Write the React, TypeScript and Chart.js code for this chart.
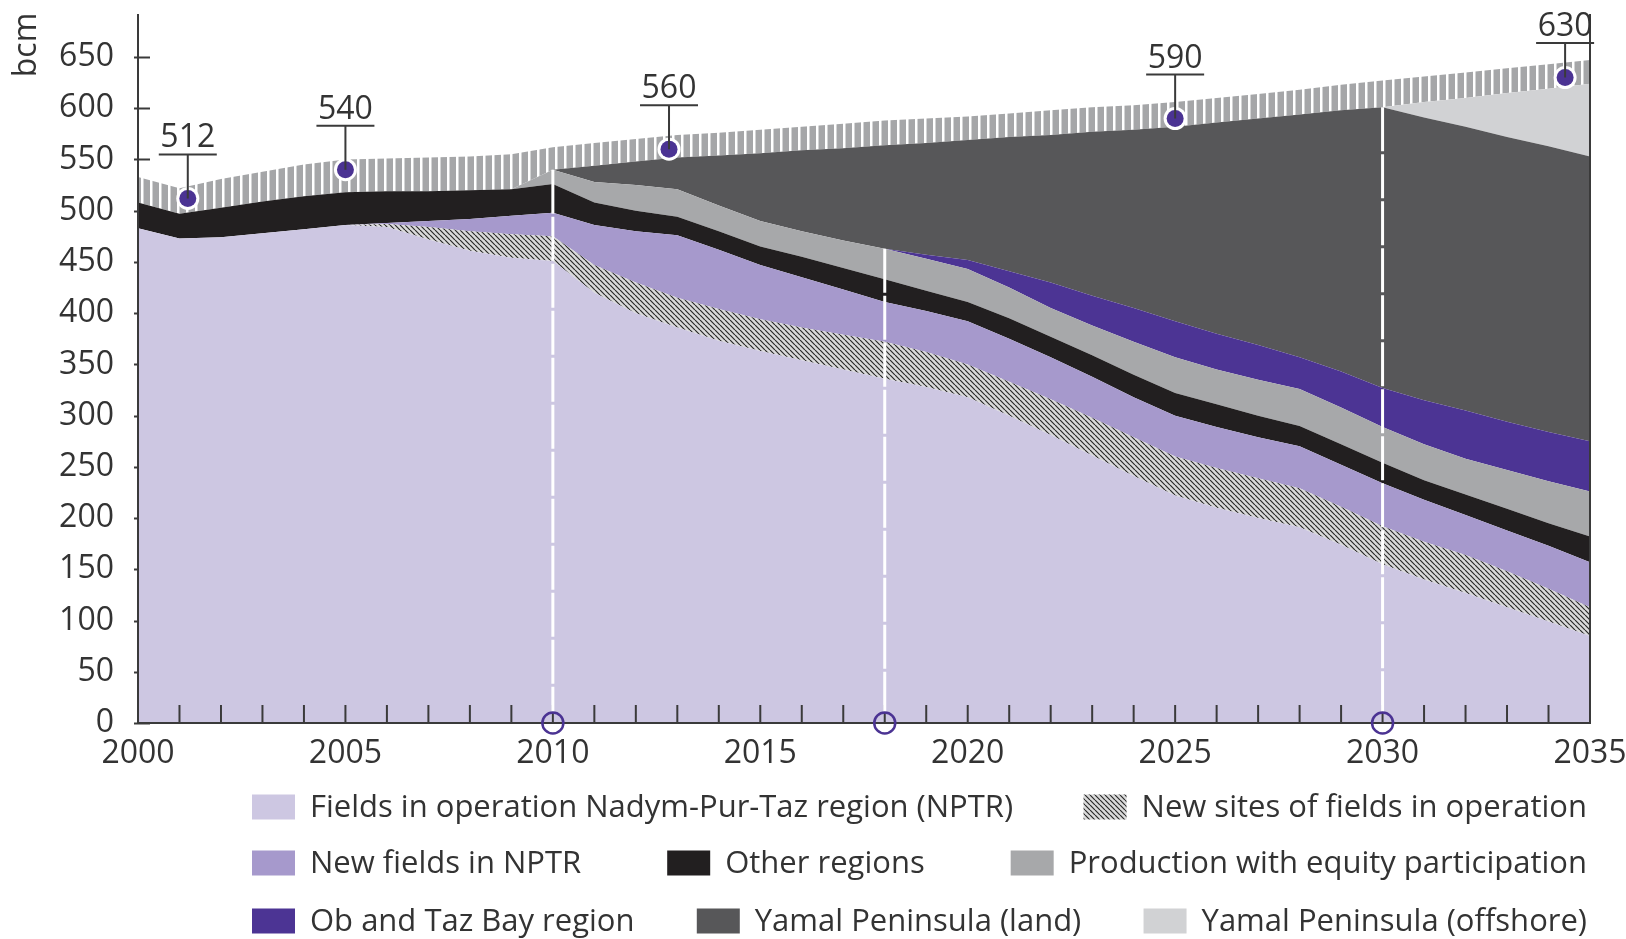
import React, { useEffect, useRef } from 'react';
import { Chart, registerables } from 'chart.js';

Chart.register(...registerables);

// ---------- data (bcm) ----------
const years = [
  2000, 2001, 2002, 2003, 2004, 2005, 2006, 2007, 2008, 2009,
  2010, 2011, 2012, 2013, 2014, 2015, 2016, 2017, 2018, 2019,
  2020, 2021, 2022, 2023, 2024, 2025, 2026, 2027, 2028, 2029,
  2030, 2031, 2032, 2033, 2034, 2035,
];

const fieldsInOperationNPTR = [
  483, 473, 474, 478, 482, 486, 484, 472, 461, 454,
  451, 420, 400, 386, 373, 363, 354, 345, 336, 328,
  318, 300, 281, 261, 241, 222, 210, 200, 191, 174,
  155, 140, 127, 113, 99, 85,
];
const newSitesOfFieldsInOperation = [
  0, 0, 0, 0, 0, 0, 3, 12, 19, 23,
  24, 27, 30, 29, 31, 31, 32, 34, 36, 34,
  32, 33, 35, 37, 38, 38, 39, 39, 38, 37,
  37, 37, 37, 35, 32, 28,
];
const newFieldsInNPTR = [
  0, 0, 0, 0, 0, 0, 1, 6, 12, 18,
  23, 39, 50, 61, 58, 53, 49, 44, 39, 40,
  42, 42, 41, 40, 39, 40, 40, 40, 41, 41,
  42, 41, 39, 40, 42, 44,
];
const otherRegions = [
  25, 24, 29, 31, 32, 32, 31, 29, 28, 26,
  28, 22, 20, 18, 18, 18, 20, 21, 22, 20,
  19, 20, 20, 21, 22, 22, 22, 21, 20, 20,
  20, 19, 20, 21, 22, 25,
];
const equityParticipation = [
  0, 0, 0, 0, 0, 0, 0, 0, 0, 0,
  14, 20, 25, 27, 25, 25, 25, 27, 30, 31,
  32, 30, 28, 29, 32, 35, 34, 35, 36, 36,
  35, 35, 35, 38, 41, 44,
];
const obTazBayRegion = [
  0, 0, 0, 0, 0, 0, 0, 0, 0, 0,
  0, 0, 0, 0, 0, 0, 0, 0, 0, 4,
  9, 16, 25, 29, 33, 35, 35, 34, 31, 35,
  38, 43, 47, 47, 48, 49,
];
const yamalLand = [
  0, 0, 0, 0, 0, 0, 0, 0, 0, 0,
  0, 16, 23, 31, 49, 66, 79, 90, 101, 109,
  117, 131, 144, 160, 174, 190, 206, 221, 237, 255,
  274, 276, 277, 278, 279, 278,
];
const yamalOffshore = [
  0, 0, 0, 0, 0, 0, 0, 0, 0, 0,
  0, 0, 0, 0, 0, 0, 0, 0, 0, 0,
  0, 0, 0, 0, 0, 0, 0, 0, 0, 0,
  0, 15, 28, 43, 56, 71,
];
const upperBand = [
  25, 25, 28, 29, 31, 32, 32, 33, 33, 34,
  22, 22, 22, 22, 22, 23, 23, 24, 24, 24,
  23, 23, 24, 24, 24, 24, 24, 24, 24, 25,
  26, 25, 25, 24, 24, 23,
];

const seriesNames = [
  'Fields in operation Nadym-Pur-Taz region (NPTR)',
  'New sites of fields in operation',
  'New fields in NPTR',
  'Other regions',
  'Production with equity participation',
  'Ob and Taz Bay region',
  'Yamal Peninsula (land)',
  'Yamal Peninsula (offshore)',
  '',
];
const seriesValues = [
  fieldsInOperationNPTR,
  newSitesOfFieldsInOperation,
  newFieldsInNPTR,
  otherRegions,
  equityParticipation,
  obTazBayRegion,
  yamalLand,
  yamalOffshore,
  upperBand,
];

const markerYears = [2001.2, 2005, 2012.8, 2025, 2034.4];
const markerValues = [512, 540, 560, 590, 630];

const milestoneYears = [2010, 2018, 2030];
const milestoneLayers = [
  'Yamal Peninsula (land)',
  'Ob and Taz Bay region',
  'Yamal Peninsula (offshore)',
];

const xTickLabels = [2000, 2005, 2010, 2015, 2020, 2025, 2030, 2035];
const yTickLabels = [0, 50, 100, 150, 200, 250, 300, 350, 400, 450, 500, 550, 600, 650];
const yAxisTitle = 'bcm';

const legendRows = [
  [0, 1],
  [2, 3, 4],
  [5, 6, 7],
];

// ---------- styles ----------
const FONT = '"Open Sans", "Noto Sans", sans-serif';
const TEXT = '#333333';
const AXIS = '#3a3a3a';
const DOT = '#4b3393';
const SOLID = [
  '#cdc7e2',
  'HATCH',
  '#a699cc',
  '#221f20',
  '#a7a8aa',
  '#4c3494',
  '#575759',
  '#d1d2d4',
  'STRIPE',
];

function makeStripe(ctx: CanvasRenderingContext2D) {
  const c = document.createElement('canvas');
  c.width = 9;
  c.height = 4;
  const g = c.getContext('2d')!;
  g.fillStyle = '#a5a6a8';
  g.fillRect(0, 0, 9, 4);
  g.fillStyle = '#ffffff';
  g.fillRect(6, 0, 2.5, 4);
  return ctx.createPattern(c, 'repeat')!;
}

function makeHatch(ctx: CanvasRenderingContext2D) {
  const s = 5;
  const c = document.createElement('canvas');
  c.width = s;
  c.height = s;
  const g = c.getContext('2d')!;
  g.fillStyle = '#dadada';
  g.fillRect(0, 0, s, s);
  g.strokeStyle = '#2a2a2a';
  g.lineWidth = 1.2;
  g.beginPath();
  for (let o = -s; o <= s; o += s) {
    g.moveTo(o, 0);
    g.lineTo(o + s, s);
  }
  g.stroke();
  return ctx.createPattern(c, 'repeat')!;
}

export default function App() {
  const ref = useRef<HTMLCanvasElement | null>(null);

  useEffect(() => {
    const canvas = ref.current!;
    const ctx0 = canvas.getContext('2d')!;
    const stripe = makeStripe(ctx0);
    const hatch = makeHatch(ctx0);
    const fills = SOLID.map((c) => (c === 'HATCH' ? hatch : c === 'STRIPE' ? stripe : c));

    const datasets = seriesValues.map((vals, i) => ({
      label: seriesNames[i],
      data: years.map((x, k) => ({ x, y: vals[k] })),
      backgroundColor: fills[i] as any,
      borderWidth: 0,
      borderColor: 'rgba(0,0,0,0)',
      pointRadius: 0,
      tension: 0,
      fill: i === 0 ? 'origin' : '-1',
    }));

    const overlay = {
      id: 'overlay',
      beforeDatasetsDraw(chart: any) {
        const { ctx, chartArea, scales } = chart;
        ctx.save();
        ctx.strokeStyle = AXIS;
        ctx.lineWidth = 2;
        yTickLabels.forEach((v) => {
          const py = Math.round(scales.y.getPixelForValue(v)) + 0.5;
          ctx.beginPath();
          ctx.moveTo(chartArea.left - 4, py);
          ctx.lineTo(chartArea.left + 12, py);
          ctx.stroke();
        });
        ctx.restore();
      },
      afterDatasetsDraw(chart: any) {
        const { ctx, chartArea, scales } = chart;
        const xs = scales.x;
        const ys = scales.y;
        const bottom = ys.getPixelForValue(0);
        ctx.save();

        // axes frame
        ctx.strokeStyle = AXIS;
        ctx.lineWidth = 2;
        ctx.beginPath();
        ctx.moveTo(chartArea.left, chartArea.top);
        ctx.lineTo(chartArea.left, bottom);
        ctx.lineTo(chartArea.right, bottom);
        ctx.lineTo(chartArea.right, chartArea.top);
        ctx.stroke();

        // yearly ticks (inward)
        for (let yr = xs.min + 1; yr < xs.max; yr++) {
          const px = xs.getPixelForValue(yr);
          ctx.beginPath();
          ctx.moveTo(px, bottom);
          ctx.lineTo(px, bottom - 18);
          ctx.stroke();
        }

        // milestone lines
        milestoneYears.forEach((yr, k) => {
          const idx = years.indexOf(yr);
          const layer = seriesNames.indexOf(milestoneLayers[k]);
          let base = 0;
          for (let j = 0; j < layer; j++) base += seriesValues[j][idx];
          const px = xs.getPixelForValue(yr);
          const top = ys.getPixelForValue(base);
          ctx.strokeStyle = '#ffffff';
          ctx.lineWidth = 3;
          ctx.setLineDash([44, 3]);
          ctx.beginPath();
          ctx.moveTo(px, top);
          ctx.lineTo(px, bottom - 11);
          ctx.stroke();
          ctx.setLineDash([]);
          ctx.strokeStyle = DOT;
          ctx.lineWidth = 2.5;
          ctx.beginPath();
          ctx.arc(px, bottom, 10.5, 0, Math.PI * 2);
          ctx.stroke();
        });

        // total markers
        ctx.font = `32px ${FONT}`;
        ctx.textAlign = 'center';
        ctx.textBaseline = 'alphabetic';
        markerYears.forEach((yr, i) => {
          const px = xs.getPixelForValue(yr);
          const py = ys.getPixelForValue(markerValues[i]);
          const uy = Math.max(py - 44, chartArea.top + 29);
          ctx.fillStyle = '#ffffff';
          ctx.beginPath();
          ctx.arc(px, py, 11.5, 0, Math.PI * 2);
          ctx.fill();
          ctx.fillStyle = DOT;
          ctx.beginPath();
          ctx.arc(px, py, 8.5, 0, Math.PI * 2);
          ctx.fill();
          ctx.strokeStyle = AXIS;
          ctx.lineWidth = 2;
          ctx.beginPath();
          ctx.moveTo(px, py);
          ctx.lineTo(px, uy);
          ctx.moveTo(px - 29, uy);
          ctx.lineTo(px + 29, uy);
          ctx.stroke();
          ctx.fillStyle = TEXT;
          ctx.fillText(String(markerValues[i]), px, uy - 7);
        });

        // y axis title
        ctx.save();
        ctx.translate(27, chartArea.top + 31);
        ctx.rotate(-Math.PI / 2);
        ctx.textAlign = 'center';
        ctx.textBaseline = 'middle';
        ctx.fillStyle = TEXT;
        ctx.fillText(yAxisTitle, 0, 0);
        ctx.restore();

        // legend
        const left = chartArea.left + 114;
        const right = chartArea.right - 3;
        const rowY = [bottom + 84, bottom + 140, bottom + 198];
        const sw = 43;
        const sh = 25;
        const gap = 15;
        ctx.font = `31px ${FONT}`;
        ctx.textAlign = 'left';
        ctx.textBaseline = 'middle';
        legendRows.forEach((row, r) => {
          const widths = row.map((i) => sw + gap + ctx.measureText(seriesNames[i]).width);
          const total = widths.reduce((a, b) => a + b, 0);
          const spacing = row.length > 1 ? (right - left - total) / (row.length - 1) : 0;
          let cx = left;
          row.forEach((i, k) => {
            const cy = rowY[r];
            ctx.fillStyle = fills[i] as any;
            ctx.fillRect(cx, cy - sh / 2, sw, sh);
            ctx.fillStyle = TEXT;
            ctx.fillText(seriesNames[i], cx + sw + gap, cy + 1);
            cx += widths[k] + spacing;
          });
        });

        ctx.restore();
      },
    };

    const chart = new Chart(canvas, {
      type: 'line',
      data: { datasets: datasets as any },
      options: {
        responsive: false,
        animation: false,
        devicePixelRatio: 1,
        layout: { padding: { top: 14, right: 36, left: 0, bottom: 0 } },
        plugins: { legend: { display: false }, tooltip: { enabled: false } },
        elements: { point: { radius: 0 }, line: { tension: 0, borderWidth: 0 } },
        scales: {
          x: {
            type: 'linear',
            min: 2000,
            max: 2035,
            grid: { display: false, drawTicks: false },
            border: { display: false },
            afterBuildTicks: (s: any) => {
              s.ticks = xTickLabels.map((v) => ({ value: v }));
            },
            afterFit: (s: any) => {
              s.height = 216;
              s.paddingLeft = 0;
              s.paddingRight = 0;
            },
            ticks: {
              autoSkip: false,
              maxRotation: 0,
              padding: 12,
              color: TEXT,
              font: { family: FONT, size: 32 },
              callback: (v: any) => String(v),
            },
          },
          y: {
            stacked: true,
            min: 0,
            max: 692,
            grid: { display: false, drawTicks: false },
            border: { display: false },
            afterBuildTicks: (s: any) => {
              s.ticks = yTickLabels.map((v) => ({ value: v }));
            },
            afterFit: (s: any) => {
              s.width = 138;
              s.paddingTop = 0;
              s.paddingBottom = 0;
            },
            ticks: {
              padding: 24,
              color: TEXT,
              font: { family: FONT, size: 32 },
              callback: (v: any) => String(v),
            },
          },
        },
      },
      plugins: [overlay],
    });

    return () => chart.destroy();
  }, []);

  return (
    <div style={{ position: 'fixed', left: 0, top: 0, width: 1626, height: 939, background: '#fff' }}>
      <canvas ref={ref} width={1626} height={939} style={{ width: 1626, height: 939, display: 'block' }} />
    </div>
  );
}
